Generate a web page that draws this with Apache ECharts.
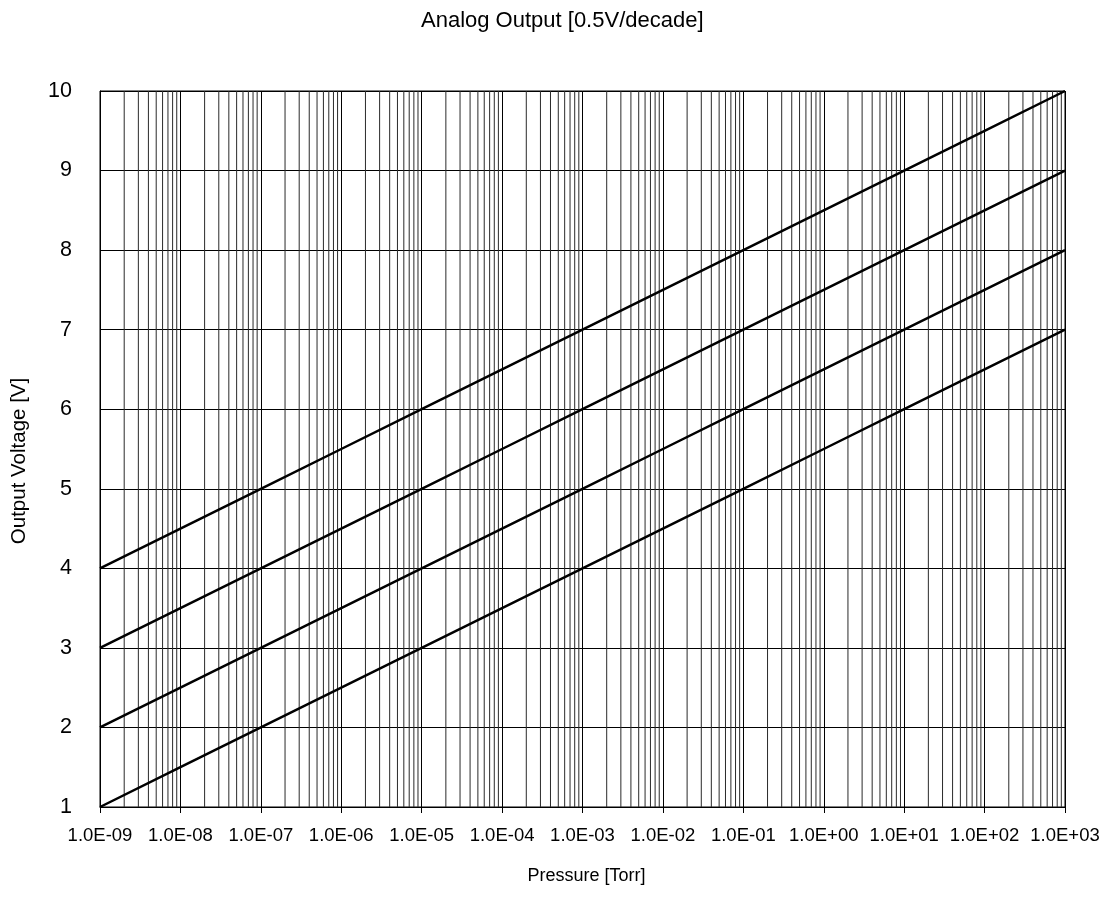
<!DOCTYPE html>
<html><head><meta charset="utf-8">
<script src="https://cdn.jsdelivr.net/npm/echarts@6/dist/echarts.min.js"></script>
<style>html,body{margin:0;padding:0;background:#fff}#c{width:1112px;height:917px}</style>
</head><body><div id="c"></div>
<script>
const pressures = [1e-9,1e-8,1e-7,1e-6,1e-5,1e-4,1e-3,1e-2,1e-1,1e0,1e1,1e2,1e3];
const xTickLabels = ['1.0E-09','1.0E-08','1.0E-07','1.0E-06','1.0E-05','1.0E-04','1.0E-03','1.0E-02','1.0E-01','1.0E+00','1.0E+01','1.0E+02','1.0E+03'];
const seriesA = [4,4.5,5,5.5,6,6.5,7,7.5,8,8.5,9,9.5,10];
const seriesB = [3,3.5,4,4.5,5,5.5,6,6.5,7,7.5,8,8.5,9];
const seriesC = [2,2.5,3,3.5,4,4.5,5,5.5,6,6.5,7,7.5,8];
const seriesD = [1,1.5,2,2.5,3,3.5,4,4.5,5,5.5,6,6.5,7];
const minorMultipliers = [2,3,4,5,6,7,8,9];
const yMin = 1, yMax = 10;

const labelMap = {};
pressures.forEach((p, i) => { labelMap[Math.round(Math.log10(p))] = xTickLabels[i]; });

const minorSeries = [];
for (let i = 0; i < pressures.length - 1; i++) {
  for (const m of minorMultipliers) {
    const v = pressures[i] * m;
    minorSeries.push({
      type: 'line', data: [[v, yMin], [v, yMax]], symbol: 'none', silent: true, z: 1,
      lineStyle: {color: '#2a2a2a', width: 1}
    });
  }
}

function mk(vals) {
  return {
    type: 'line', data: pressures.map((p, i) => [p, vals[i]]),
    symbol: 'none', lineStyle: {color: '#000', width: 2.5}, z: 5, silent: true
  };
}
const font = 'Liberation Sans, Arial, sans-serif';
const chart = echarts.init(document.getElementById('c'), null, {renderer: 'canvas'});
chart.setOption({
  animation: false,
  backgroundColor: '#fff',
  title: {text: 'Analog Output [0.5V/decade]', left: 416, top: 5,
    textStyle: {fontFamily: font, fontSize: 22, fontWeight: 'normal', color: '#000'}},
  grid: {left: 100, right: 47, top: 91, bottom: 110, show: true, borderColor: '#000', borderWidth: 1,
    outerBoundsMode: 'none', containLabel: false},
  xAxis: {
    type: 'log', logBase: 10, min: 1e-9, max: 1e3, interval: 1,
    name: 'Pressure [Torr]', nameLocation: 'middle', nameGap: 60,
    nameTextStyle: {fontFamily: font, fontSize: 18, color: '#000', padding: [0, 0, 0, 8]},
    axisLine: {show: true, lineStyle: {color: '#000', width: 1}},
    axisTick: {show: true, length: 6, lineStyle: {color: '#000'}},
    axisLabel: {fontFamily: font, fontSize: 18.5, color: '#000', margin: 19, showMinLabel: true, showMaxLabel: true,
      hideOverlap: false, interval: 0,
      formatter: v => labelMap[Math.round(Math.log10(v))] || ''},
    splitLine: {show: true, lineStyle: {color: '#000', width: 1}},
    minorTick: {show: false}
  },
  yAxis: {
    type: 'value', min: yMin, max: yMax, interval: 1,
    name: 'Output Voltage [V]', nameLocation: 'middle', nameGap: 70, nameRotate: 90,
    nameTextStyle: {fontFamily: font, fontSize: 20.5, color: '#000', padding: [0, 24, 0, 0]},
    axisLine: {show: true, lineStyle: {color: '#000', width: 1}},
    axisTick: {show: false},
    axisLabel: {fontFamily: font, fontSize: 21.5, color: '#000', margin: 28},
    splitLine: {show: true, lineStyle: {color: '#000', width: 1}}
  },
  series: minorSeries.concat([mk(seriesA), mk(seriesB), mk(seriesC), mk(seriesD)])
});
</script></body></html>
